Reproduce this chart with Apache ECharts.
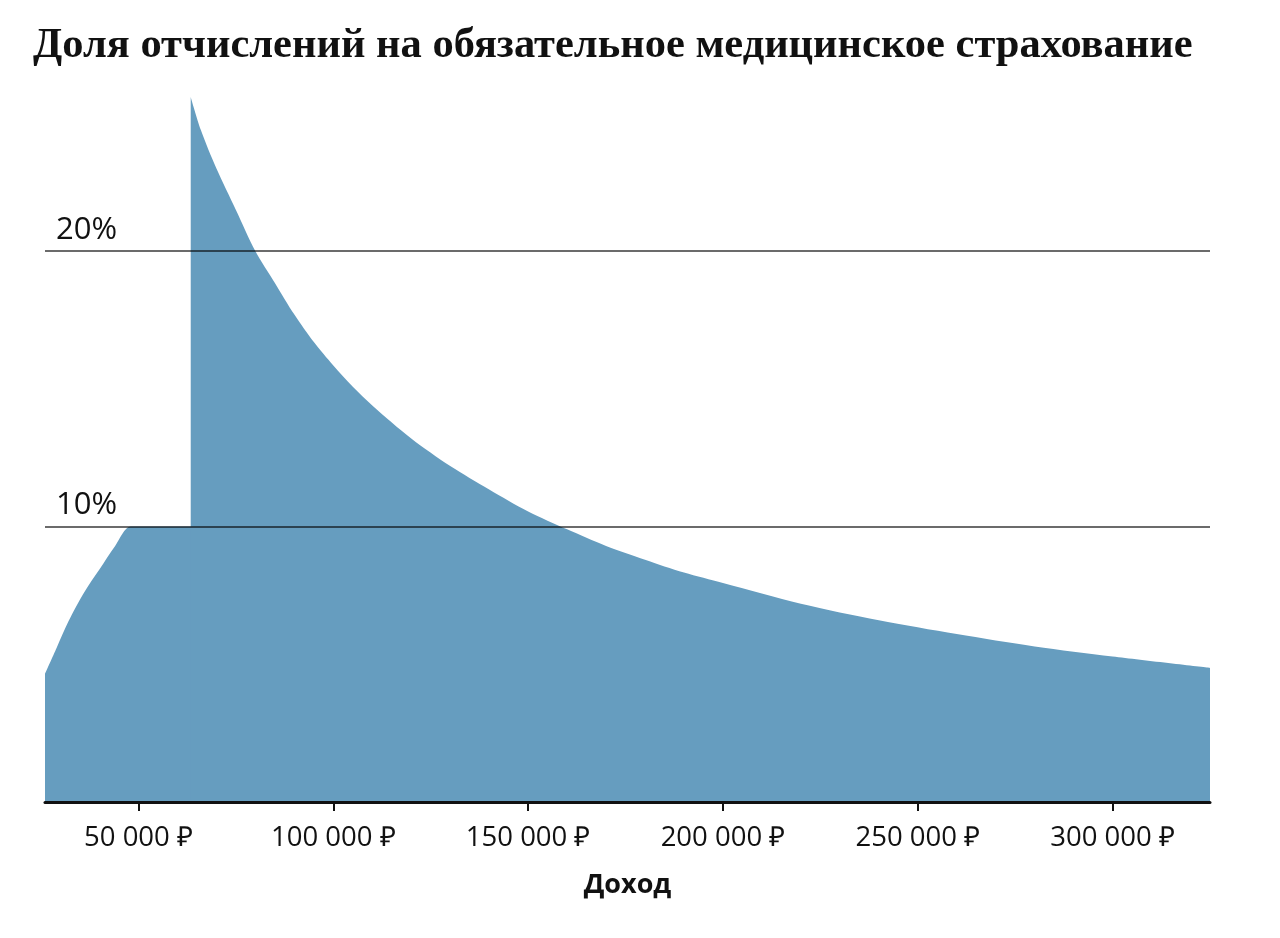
<!DOCTYPE html>
<html>
<head>
<meta charset="utf-8">
<script src="https://cdn.jsdelivr.net/npm/echarts@6/dist/echarts.min.js"></script>
<style>
  html, body { margin: 0; padding: 0; background: #fff; }
  #chart { width: 1280px; height: 938px; }
</style>
</head>
<body>
<div id="chart"></div>
<script>
// доход, ₽ и доля отчислений, % (точки)
// до скачка
var incomesLow = [26000, 29000, 32000, 36000, 40000, 44000, 48000, 55000, 64000];
var sharesLow = [4.65, 5.6, 6.55, 7.6, 8.45, 9.3, 10.0, 10.0, 10.0];
// после скачка
var incomesHigh = [63400, 66000, 70000, 75000, 80000, 85000, 90000, 95000, 100000,
    105000, 110000, 120000, 130000, 140000, 150000, 160000, 170000, 180000, 190000,
    200000, 220000, 240000, 260000, 280000, 300000, 325000];
var sharesHigh = [25.6, 24.4, 23.0, 21.5, 20.0, 18.85, 17.7, 16.7, 15.85,
    15.08, 14.4, 13.2, 12.2, 11.35, 10.55, 9.9, 9.3, 8.8, 8.33,
    7.95, 7.2, 6.6, 6.1, 5.65, 5.28, 4.87];
// подписи оси X
var xTicks = [50000, 100000, 150000, 200000, 250000, 300000];
// горизонтальные линии
var yLines = [10, 20];

function toPoints(xs, ys) {
    var pts = [];
    for (let i = 0; i < xs.length; i++) {
        pts.push([xs[i], ys[i]]);
    }
    return pts;
}

function rub(v) {
    return (v / 1000) + ' 000 ₽';
}

function areaSeries(pts) {
    return {
        type: 'line',
        data: pts,
        showSymbol: false,
        smooth: 0.3,
        lineStyle: { width: 0 },
        areaStyle: { color: '#669dbf', opacity: 1 }
    };
}

var myChart = echarts.init(document.getElementById('chart'));
var lowSeries = areaSeries(toPoints(incomesLow, sharesLow));
var highSeries = areaSeries(toPoints(incomesHigh, sharesHigh));
highSeries.markLine = {
    silent: true,
    symbol: ['none', 'none'],
    label: { show: false },
    lineStyle: { color: 'rgba(0,0,0,0.58)', width: 2, type: 'solid' },
    data: yLines.map(function (v) { return { yAxis: v }; })
};

var option = {
    animation: false,
    backgroundColor: '#ffffff',
    title: {
        text: 'Доля отчислений на обязательное медицинское страхование',
        left: 28,
        top: 20,
        textStyle: {
            fontFamily: 'Liberation Serif',
            fontWeight: 'bold',
            fontSize: 42.5,
            color: '#111'
        }
    },
    grid: {
        left: 45,
        right: 70,
        top: 97,
        bottom: 136
    },
    xAxis: {
        type: 'value',
        min: 26000,
        max: 325000,
        z: 4,
        name: 'Доход',
        nameLocation: 'middle',
        nameGap: 70,
        nameTextStyle: {
            fontFamily: 'Open Sans',
            fontWeight: 'bold',
            fontSize: 27,
            color: '#111'
        },
        axisLine: { lineStyle: { color: '#111', width: 3 } },
        axisTick: {
            show: true,
            customValues: xTicks,
            length: 9,
            lineStyle: { color: '#111', width: 2 }
        },
        axisLabel: {
            customValues: xTicks,
            margin: 22,
            fontFamily: 'Open Sans',
            fontSize: 27.5,
            color: '#111',
            formatter: rub
        },
        splitLine: { show: false }
    },
    yAxis: {
        type: 'value',
        min: 0,
        max: 25.6,
        interval: 10,
        z: 4,
        axisLine: { show: false },
        axisTick: { show: false },
        splitLine: { show: false },
        axisLabel: {
            inside: true,
            margin: 11,
            verticalAlign: 'bottom',
            padding: [0, 0, 6, 0],
            fontFamily: 'Open Sans',
            fontSize: 31,
            color: '#111',
            formatter: function (v) {
                return yLines.indexOf(v) >= 0 ? v + '%' : '';
            }
        }
    },
    series: [lowSeries, highSeries]
};
myChart.setOption(option);
</script>
</body>
</html>
